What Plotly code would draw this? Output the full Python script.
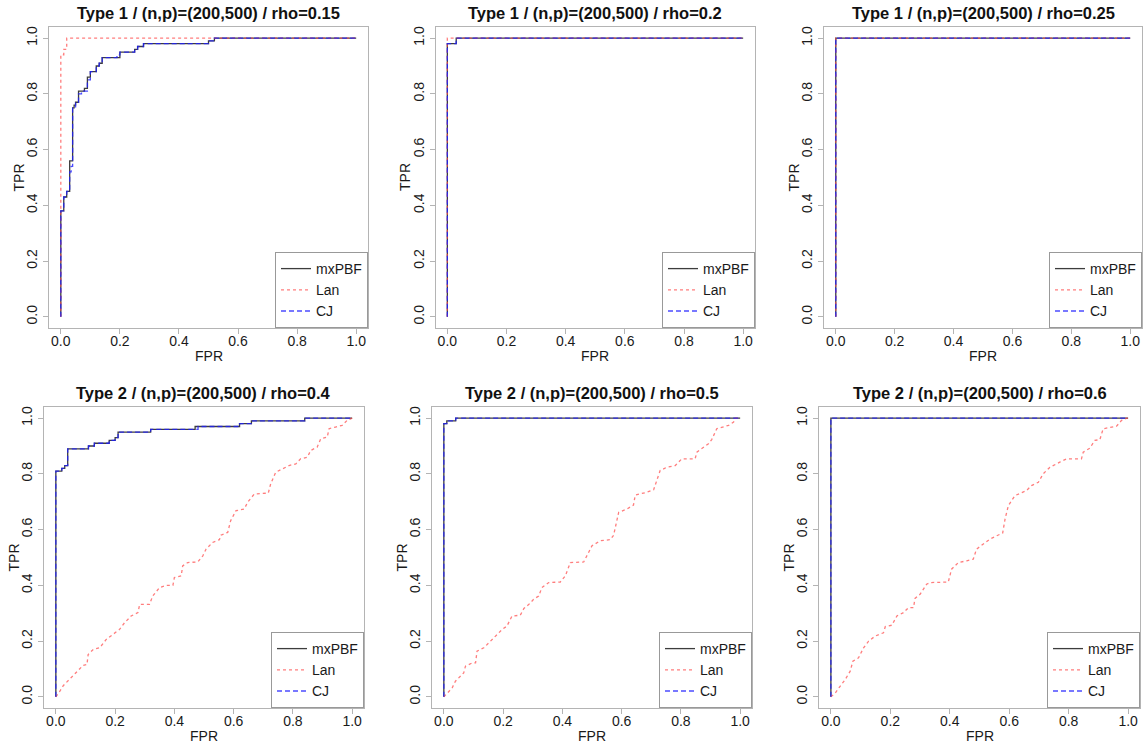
import plotly.graph_objects as go

# ---------------- data ----------------
titles = [
    "Type 1 / (n,p)=(200,500) / rho=0.15",
    "Type 1 / (n,p)=(200,500) / rho=0.2",
    "Type 1 / (n,p)=(200,500) / rho=0.25",
    "Type 2 / (n,p)=(200,500) / rho=0.4",
    "Type 2 / (n,p)=(200,500) / rho=0.5",
    "Type 2 / (n,p)=(200,500) / rho=0.6",
]
series_names = ["mxPBF", "Lan", "CJ"]
tick_vals = [0.0, 0.2, 0.4, 0.6, 0.8, 1.0]
tick_text = ["0.0", "0.2", "0.4", "0.6", "0.8", "1.0"]

# Panel 1 (step curves: x where TPR jumps, TPR after jump)
p1_mx_fpr = [0, 0, 0.01, 0.02, 0.03, 0.04, 0.045, 0.05, 0.06, 0.08, 0.09, 0.10, 0.12, 0.13, 0.14, 0.20, 0.25, 0.26, 0.28, 0.50, 0.52, 1.0]
p1_mx_tpr = [0, 0.38, 0.43, 0.45, 0.56, 0.75, 0.76, 0.77, 0.81, 0.82, 0.86, 0.88, 0.90, 0.91, 0.93, 0.95, 0.96, 0.97, 0.98, 0.99, 1.0, 1.0]
p1_lan_fpr = [0, 0, 0.01, 0.02, 1.0]
p1_lan_tpr = [0, 0.94, 0.96, 1.0, 1.0]
p1_cj_fpr = [0, 0, 0.01, 0.02, 0.03, 0.035, 0.04, 0.05, 0.06, 0.07, 0.09, 0.10, 0.12, 0.13, 0.14, 0.19, 0.20, 0.25, 0.26, 0.28, 0.50, 0.52, 1.0]
p1_cj_tpr = [0, 0.38, 0.43, 0.45, 0.52, 0.54, 0.75, 0.77, 0.80, 0.81, 0.85, 0.88, 0.90, 0.91, 0.93, 0.94, 0.95, 0.96, 0.97, 0.98, 0.99, 1.0, 1.0]

# Panel 2
p2_mx_fpr = [0, 0, 0.03, 1.0]
p2_mx_tpr = [0, 0.98, 1.0, 1.0]
p2_lan_fpr = [0, 0, 1.0]
p2_lan_tpr = [0, 1.0, 1.0]
p2_cj_fpr = [0, 0, 0.03, 1.0]
p2_cj_tpr = [0, 0.98, 1.0, 1.0]

# Panel 3
p3_mx_fpr = [0, 0, 1.0]
p3_mx_tpr = [0, 1.0, 1.0]
p3_lan_fpr = [0, 0, 1.0]
p3_lan_tpr = [0, 1.0, 1.0]
p3_cj_fpr = [0, 0, 1.0]
p3_cj_tpr = [0, 1.0, 1.0]

# Panel 4
p4_mx_fpr = [0, 0, 0.02, 0.03, 0.04, 0.11, 0.13, 0.18, 0.20, 0.21, 0.32, 0.47, 0.62, 0.66, 0.84, 1.0]
p4_mx_tpr = [0, 0.81, 0.82, 0.83, 0.89, 0.90, 0.91, 0.92, 0.93, 0.95, 0.96, 0.97, 0.98, 0.99, 1.0, 1.0]
p4_cj_fpr = [0, 0, 0.02, 0.03, 0.04, 0.11, 0.13, 0.18, 0.20, 0.21, 0.32, 0.48, 0.62, 0.66, 0.84, 1.0]
p4_cj_tpr = [0, 0.81, 0.82, 0.83, 0.89, 0.90, 0.91, 0.92, 0.93, 0.95, 0.96, 0.97, 0.98, 0.99, 1.0, 1.0]
p4_lan_fpr = [0, 0.01, 0.025, 0.04, 0.058, 0.075, 0.092, 0.105, 0.109, 0.126, 0.148, 0.17, 0.193, 0.215, 0.232, 0.254,
              0.277, 0.283, 0.316, 0.327, 0.35, 0.372, 0.395, 0.40, 0.423, 0.428, 0.445, 0.479, 0.496, 0.507, 0.529,
              0.552, 0.557, 0.58, 0.59, 0.608, 0.636, 0.647, 0.67, 0.717, 0.725, 0.742, 0.765, 0.787, 0.81, 0.826,
              0.849, 0.86, 0.882, 0.894, 0.916, 0.922, 0.944, 0.966, 0.983, 1.0]
p4_lan_tpr = [0, 0.014, 0.04, 0.056, 0.074, 0.092, 0.113, 0.116, 0.152, 0.17, 0.176, 0.206, 0.224, 0.242, 0.266, 0.29,
              0.302, 0.332, 0.332, 0.362, 0.392, 0.40, 0.40, 0.428, 0.434, 0.47, 0.482, 0.484, 0.506, 0.53, 0.554,
              0.564, 0.58, 0.59, 0.632, 0.668, 0.674, 0.698, 0.728, 0.731, 0.764, 0.806, 0.818, 0.83, 0.836, 0.854,
              0.86, 0.884, 0.896, 0.926, 0.932, 0.962, 0.968, 0.974, 0.992, 1.0]

# Panel 5
p5_mx_fpr = [0, 0, 0.01, 0.04, 1.0]
p5_mx_tpr = [0, 0.98, 0.99, 1.0, 1.0]
p5_cj_fpr = [0, 0, 0.01, 0.04, 1.0]
p5_cj_tpr = [0, 0.98, 0.99, 1.0, 1.0]
p5_lan_fpr = [0, 0.011, 0.028, 0.039, 0.056, 0.067, 0.073, 0.096, 0.107, 0.112, 0.135, 0.157, 0.174, 0.197, 0.213,
              0.23, 0.258, 0.27, 0.287, 0.303, 0.32, 0.331, 0.354, 0.393, 0.41, 0.427, 0.472, 0.50, 0.528, 0.562,
              0.573, 0.59, 0.618, 0.64, 0.646, 0.685, 0.708, 0.73, 0.753, 0.781, 0.803, 0.848, 0.854, 0.893, 0.904,
              0.921, 0.961, 0.978, 0.983, 1.0]
p5_lan_tpr = [0, 0.014, 0.032, 0.056, 0.074, 0.086, 0.11, 0.122, 0.122, 0.164, 0.176, 0.2, 0.218, 0.242, 0.254,
              0.29, 0.293, 0.317, 0.332, 0.35, 0.362, 0.392, 0.41, 0.412, 0.434, 0.482, 0.484, 0.542, 0.56, 0.564,
              0.58, 0.662, 0.674, 0.688, 0.724, 0.734, 0.743, 0.812, 0.824, 0.83, 0.854, 0.854, 0.878, 0.908, 0.923,
              0.962, 0.974, 0.986, 1.0, 1.0]

# Panel 6
p6_mx_fpr = [0, 0, 1.0]
p6_mx_tpr = [0, 1.0, 1.0]
p6_cj_fpr = [0, 0, 1.0]
p6_cj_tpr = [0, 1.0, 1.0]
p6_lan_fpr = [0, 0.015, 0.031, 0.048, 0.065, 0.074, 0.093, 0.11, 0.127, 0.149, 0.177, 0.183, 0.205, 0.222, 0.244,
              0.261, 0.278, 0.283, 0.30, 0.322, 0.334, 0.395, 0.406, 0.429, 0.457, 0.479, 0.49, 0.513, 0.535, 0.558,
              0.578, 0.586, 0.597, 0.619, 0.658, 0.675, 0.698, 0.714, 0.737, 0.77, 0.793, 0.843, 0.849, 0.871,
              0.888, 0.905, 0.916, 0.961, 0.978, 0.995, 1.0]
p6_lan_tpr = [0, 0.014, 0.038, 0.062, 0.092, 0.128, 0.14, 0.176, 0.2, 0.218, 0.23, 0.252, 0.257, 0.29, 0.302,
              0.32, 0.32, 0.353, 0.368, 0.404, 0.41, 0.412, 0.458, 0.482, 0.488, 0.494, 0.53, 0.548, 0.566, 0.578,
              0.588, 0.638, 0.686, 0.722, 0.74, 0.758, 0.77, 0.80, 0.824, 0.842, 0.854, 0.854, 0.878, 0.892,
              0.92, 0.923, 0.962, 0.971, 0.992, 1.0, 1.0]

panels = [
    (p1_mx_fpr, p1_mx_tpr, p1_lan_fpr, p1_lan_tpr, p1_cj_fpr, p1_cj_tpr, "hv"),
    (p2_mx_fpr, p2_mx_tpr, p2_lan_fpr, p2_lan_tpr, p2_cj_fpr, p2_cj_tpr, "hv"),
    (p3_mx_fpr, p3_mx_tpr, p3_lan_fpr, p3_lan_tpr, p3_cj_fpr, p3_cj_tpr, "hv"),
    (p4_mx_fpr, p4_mx_tpr, p4_lan_fpr, p4_lan_tpr, p4_cj_fpr, p4_cj_tpr, "linear"),
    (p5_mx_fpr, p5_mx_tpr, p5_lan_fpr, p5_lan_tpr, p5_cj_fpr, p5_cj_tpr, "linear"),
    (p6_mx_fpr, p6_mx_tpr, p6_lan_fpr, p6_lan_tpr, p6_cj_fpr, p6_cj_tpr, "linear"),
]

# ---------------- layout geometry ----------------
W, H = 1143, 746
x_domains_px = [(49, 368), (435.5, 755), (824, 1142), (44, 364), (432, 752), (819, 1140)]
y_domains_px = [(27, 328), (27, 328), (27, 328), (407, 708), (407, 708), (407, 708)]

FONT = "Liberation Sans, Arial, Helvetica, sans-serif"
BOX = "#b4b4b4"
MX_COLOR = "rgba(40,40,40,0.9)"
LAN_COLOR = "rgba(255,70,70,0.7)"
CJ_COLOR = "rgba(30,30,255,0.8)"

fig = go.Figure()
layout = dict(
    width=W, height=H,
    margin=dict(l=0, r=0, t=0, b=0),
    paper_bgcolor="white", plot_bgcolor="white",
    font=dict(family=FONT, size=13, color="#222"),
    showlegend=True,
)
annotations = []

for i, (mxf, mxt, lf, lt, cf, ct, lan_shape) in enumerate(panels):
    k = i + 1
    sfx = "" if k == 1 else str(k)
    xa, ya = "x" + sfx, "y" + sfx
    leg = "legend" + sfx
    fig.add_trace(go.Scatter(x=mxf, y=mxt, mode="lines", name=series_names[0], xaxis=xa, yaxis=ya, legend=leg,
                             line=dict(color=MX_COLOR, width=1.3, shape="hv")))
    fig.add_trace(go.Scatter(x=lf, y=lt, mode="lines", name=series_names[1], xaxis=xa, yaxis=ya, legend=leg,
                             line=dict(color=LAN_COLOR, width=1.3, dash="dot", shape=lan_shape)))
    fig.add_trace(go.Scatter(x=cf, y=ct, mode="lines", name=series_names[2], xaxis=xa, yaxis=ya, legend=leg,
                             line=dict(color=CJ_COLOR, width=1.3, dash="5px,3px", shape="hv")))

    x0, x1 = x_domains_px[i]
    ytop, ybot = y_domains_px[i]
    xd = [x0 / W, x1 / W]
    yd = [1 - ybot / H, 1 - ytop / H]
    axis_common = dict(range=[-0.04, 1.04], tickvals=tick_vals, ticktext=tick_text, showgrid=False,
                       zeroline=False, showline=True, mirror=True, linecolor=BOX, linewidth=1,
                       ticks="outside", ticklen=5, tickcolor=BOX, tickfont=dict(size=14, color="#1a1a1a"),
                       fixedrange=True)
    layout["xaxis" + sfx] = dict(axis_common, domain=xd, anchor=ya, ticklabelstandoff=-5)
    layout["yaxis" + sfx] = dict(axis_common, domain=yd, anchor=xa, tickangle=-90)
    layout[leg] = dict(x=xd[1], xanchor="right", y=yd[0], yanchor="bottom",
                       bordercolor="#999", borderwidth=1, bgcolor="white",
                       font=dict(size=14, color="#1a1a1a"), tracegroupgap=0,
                       itemwidth=30)

    annotations.append(dict(text="<b>" + titles[i] + "</b>", xref=xa + " domain", yref=ya + " domain",
                            x=0.5, y=1, yshift=14, xanchor="center", yanchor="middle",
                            showarrow=False, font=dict(size=16.5, color="#111")))
    annotations.append(dict(text="FPR", xref=xa + " domain", yref=ya + " domain", x=0.5, y=0,
                            yshift=-28, xanchor="center", yanchor="middle", showarrow=False,
                            font=dict(size=14, color="#1a1a1a")))
    annotations.append(dict(text="TPR", xref=xa + " domain", yref=ya + " domain", x=0, y=0.5,
                            xshift=-31, xanchor="center", yanchor="middle", textangle=-90,
                            showarrow=False, font=dict(size=14, color="#1a1a1a")))

layout["annotations"] = annotations
fig.update_layout(**layout)
fig.write_html("out.html", config={"displayModeBar": False},
               post_script="document.body.style.margin='0px';document.body.style.overflow='hidden';")
